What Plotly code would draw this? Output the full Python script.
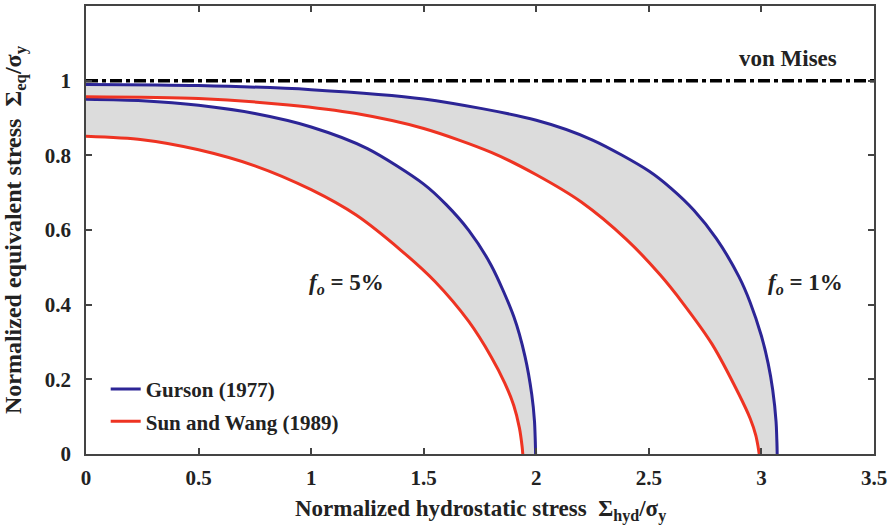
import plotly.graph_objects as go

# ---- data ----
# Gurson (1977), f0 = 5 %
gur5_x = [0, 0.25, 0.5, 0.75, 1.0, 1.25, 1.5, 1.6, 1.7, 1.8, 1.9, 1.95, 1.98, 1.992, 1.997]
gur5_y = [0.95, 0.946, 0.934, 0.912, 0.876, 0.818, 0.723, 0.668, 0.599, 0.505, 0.368, 0.261, 0.159, 0.088, 0.0]
# Gurson (1977), f0 = 1 %
gur1_x = [0, 0.5, 1.0, 1.5, 2.0, 2.25, 2.5, 2.6, 2.7, 2.8, 2.9, 2.95, 3.0, 3.03, 3.05, 3.065, 3.07]
gur1_y = [0.99, 0.987, 0.976, 0.951, 0.894, 0.841, 0.758, 0.711, 0.653, 0.577, 0.475, 0.406, 0.316, 0.242, 0.172, 0.087, 0.0]
# Sun and Wang (1989), f0 = 5 %
sw5_x = [0, 0.25, 0.5, 0.75, 1.0, 1.2, 1.4, 1.55, 1.7, 1.8, 1.86, 1.9, 1.925, 1.937, 1.94]
sw5_y = [0.851, 0.842, 0.815, 0.772, 0.708, 0.640, 0.545, 0.462, 0.355, 0.26, 0.19, 0.13, 0.07, 0.02, 0.0]
# Sun and Wang (1989), f0 = 1 %
sw1_x = [0, 0.5, 0.9, 1.2, 1.5, 1.8, 2.0, 2.2, 2.4, 2.55, 2.65, 2.78, 2.9, 2.95, 2.975, 2.985, 2.99]
sw1_y = [0.957, 0.952, 0.935, 0.912, 0.872, 0.808, 0.748, 0.675, 0.575, 0.48, 0.405, 0.295, 0.16, 0.095, 0.05, 0.02, 0.0]
# von Mises
vm_x = [0, 3.5]
vm_y = [1, 1]

x_ticks = [0, 0.5, 1, 1.5, 2, 2.5, 3, 3.5]
x_labels = ["0", "0.5", "1", "1.5", "2", "2.5", "3", "3.5"]
y_ticks = [0, 0.2, 0.4, 0.6, 0.8, 1]
y_labels = ["0", "0.2", "0.4", "0.6", "0.8", "1"]

BLUE = "#2c2596"
RED = "#ee3322"
GRAY = "#dcdcdc"
FONT = "Liberation Serif, Times New Roman, serif"
TXT = "#222"

fig = go.Figure()

# shaded bands between the two models
for gx, gy, sx, sy in [(gur5_x, gur5_y, sw5_x, sw5_y), (gur1_x, gur1_y, sw1_x, sw1_y)]:
    fig.add_trace(go.Scatter(
        x=list(gx) + list(reversed(sx)), y=list(gy) + list(reversed(sy)),
        fill="toself", fillcolor=GRAY, line=dict(width=0, shape="spline", smoothing=0.8),
        mode="lines", showlegend=False, hoverinfo="skip"))

def curve(x, y, color, name, show):
    return go.Scatter(x=x, y=y, mode="lines", name="<b>" + name + "</b>",
                      line=dict(color=color, width=3, shape="spline", smoothing=0.8),
                      showlegend=show, legendgroup=name)

fig.add_trace(curve(gur5_x, gur5_y, BLUE, "Gurson (1977)", True))
fig.add_trace(curve(gur1_x, gur1_y, BLUE, "Gurson (1977)", False))
fig.add_trace(curve(sw5_x, sw5_y, RED, "Sun and Wang (1989)", True))
fig.add_trace(curve(sw1_x, sw1_y, RED, "Sun and Wang (1989)", False))
fig.add_trace(go.Scatter(x=vm_x, y=vm_y, mode="lines", name="von Mises",
                         line=dict(color="black", width=3.5, dash="12px,4px,4px,4px"),
                         showlegend=False))

axis_common = dict(
    showgrid=False, zeroline=False, showline=True, linecolor="#444", linewidth=1.5,
    mirror="ticks", ticks="inside", ticklen=6, tickcolor="#444", tickwidth=1.5,
    tickfont=dict(family=FONT, size=21, color=TXT),
)

fig.update_layout(
    width=894, height=530,
    margin=dict(l=86, r=20, t=4, b=76),
    plot_bgcolor="white", paper_bgcolor="white",
    xaxis=dict(range=[0, 3.5], tickvals=x_ticks, ticktext=["<b>%s</b>" % t for t in x_labels],
               ticklabelstandoff=4, **axis_common),
    yaxis=dict(range=[0, 1.2], tickvals=y_ticks, ticktext=["<b>%s</b>" % t for t in y_labels],
               ticklabelstandoff=9, **axis_common),
    legend=dict(x=0.025, y=0.19, xanchor="left", yanchor="top",
                bgcolor="rgba(0,0,0,0)", tracegroupgap=2,
                font=dict(family=FONT, size=21, color=TXT)),
    font=dict(family=FONT, color=TXT),
)

fig.add_annotation(x=0.5, y=-0.127, xref="paper", yref="paper", showarrow=False,
                   xanchor="center", yanchor="middle",
                   text="<b>Normalized hydrostatic stress\u00a0\u00a0Σ<sub>hyd</sub>/σ<sub>y</sub></b>",
                   font=dict(family=FONT, size=23, color=TXT))
fig.add_annotation(x=-0.09, y=0.5, xref="paper", yref="paper", showarrow=False,
                   xanchor="center", yanchor="middle", textangle=-90,
                   text="<b>Normalized equivalent stress\u00a0\u00a0Σ<sub>eq</sub>/σ<sub>y</sub></b>",
                   font=dict(family=FONT, size=24, color=TXT))
fig.add_annotation(x=3.117, y=1.059, showarrow=False,
                   text="<b>von Mises</b>", font=dict(family=FONT, size=23, color=TXT))
fig.add_annotation(x=1.156, y=0.456, showarrow=False,
                   text="<b><i>f</i><sub><i>o</i></sub> = 5%</b>",
                   font=dict(family=FONT, size=23, color=TXT))
fig.add_annotation(x=3.197, y=0.456, showarrow=False,
                   text="<b><i>f</i><sub><i>o</i></sub> = 1%</b>",
                   font=dict(family=FONT, size=23, color=TXT))

fig.write_html("out.html")
